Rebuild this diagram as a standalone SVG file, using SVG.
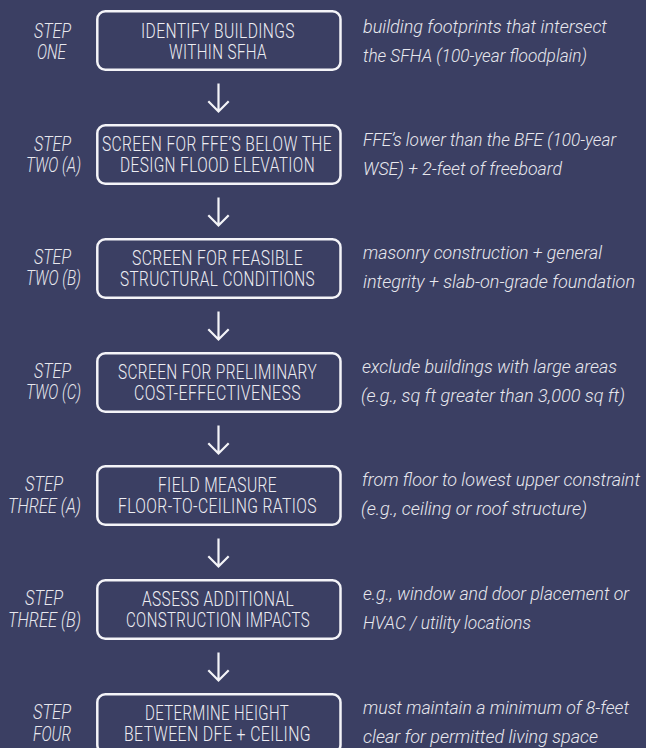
<svg xmlns="http://www.w3.org/2000/svg" width="646" height="748" viewBox="0 0 646 748">
<style>
.bg{fill:#3b3f63}
.box{fill:none;stroke:#f4f4f8;stroke-width:2.5}
.bt{font-family:Roboto,"Liberation Sans",sans-serif;font-weight:300;font-size:20px;fill:#eeeef3;letter-spacing:0.5px}
.st{font-family:Roboto,"Liberation Sans",sans-serif;font-weight:300;font-style:italic;font-size:20px;fill:#e8e8ee}
.ds{font-family:Roboto,"Liberation Sans",sans-serif;font-weight:300;font-style:italic;font-size:18.5px;fill:#e8e8ee}
.arr{fill:none;stroke:#f4f4f8;stroke-width:2.2;stroke-linecap:butt}
</style>
<rect class="bg" x="0" y="0" width="646" height="748"/>

<g id="step1">
<text class="st" x="34" y="37.5" textLength="37" lengthAdjust="spacingAndGlyphs">STEP</text>
<text class="st" x="37" y="58.5" textLength="29" lengthAdjust="spacingAndGlyphs">ONE</text>
<rect class="box" x="97.3" y="11.3" width="243.2" height="58.5" rx="8"/>
<text class="bt" x="141" y="38" textLength="154" lengthAdjust="spacingAndGlyphs">IDENTIFY BUILDINGS</text>
<text class="bt" x="169" y="59" textLength="98" lengthAdjust="spacingAndGlyphs">WITHIN SFHA</text>
<text class="ds" x="363" y="32.5" textLength="244" lengthAdjust="spacingAndGlyphs">building footprints that intersect</text>
<text class="ds" x="363" y="61.5" textLength="224" lengthAdjust="spacingAndGlyphs">the SFHA (100-year floodplain)</text>
</g>

<g id="step2a">
<text class="st" x="34" y="151" textLength="37" lengthAdjust="spacingAndGlyphs">STEP</text>
<text class="st" x="26" y="172" textLength="55" lengthAdjust="spacingAndGlyphs">TWO (A)</text>
<rect class="box" x="97.3" y="125.3" width="243.2" height="58.5" rx="8"/>
<text class="bt" x="102" y="151" textLength="230" lengthAdjust="spacingAndGlyphs">SCREEN FOR FFE’S BELOW THE</text>
<text class="bt" x="120" y="172" textLength="195" lengthAdjust="spacingAndGlyphs">DESIGN FLOOD ELEVATION</text>
<text class="ds" x="363" y="145.5" textLength="253" lengthAdjust="spacingAndGlyphs">FFE’s lower than the BFE (100-year</text>
<text class="ds" x="363" y="174.5" textLength="199" lengthAdjust="spacingAndGlyphs">WSE) + 2-feet of freeboard</text>
</g>

<g id="step2b">
<text class="st" x="34" y="263.5" textLength="37" lengthAdjust="spacingAndGlyphs">STEP</text>
<text class="st" x="26" y="285" textLength="55" lengthAdjust="spacingAndGlyphs">TWO (B)</text>
<rect class="box" x="97.3" y="239.3" width="243.2" height="58.5" rx="8"/>
<text class="bt" x="132" y="265" textLength="171" lengthAdjust="spacingAndGlyphs">SCREEN FOR FEASIBLE</text>
<text class="bt" x="120" y="286" textLength="195" lengthAdjust="spacingAndGlyphs">STRUCTURAL CONDITIONS</text>
<text class="ds" x="363" y="259" textLength="239" lengthAdjust="spacingAndGlyphs">masonry construction + general</text>
<text class="ds" x="363" y="288" textLength="272" lengthAdjust="spacingAndGlyphs">integrity + slab-on-grade foundation</text>
</g>

<g id="step2c">
<text class="st" x="34" y="377.5" textLength="37" lengthAdjust="spacingAndGlyphs">STEP</text>
<text class="st" x="26" y="399" textLength="55" lengthAdjust="spacingAndGlyphs">TWO (C)</text>
<rect class="box" x="97.3" y="353.3" width="243.2" height="58.5" rx="8"/>
<text class="bt" x="118" y="379" textLength="199" lengthAdjust="spacingAndGlyphs">SCREEN FOR PRELIMINARY</text>
<text class="bt" x="134" y="400" textLength="167" lengthAdjust="spacingAndGlyphs">COST-EFFECTIVENESS</text>
<text class="ds" x="362" y="373" textLength="255" lengthAdjust="spacingAndGlyphs">exclude buildings with large areas</text>
<text class="ds" x="361" y="402" textLength="264" lengthAdjust="spacingAndGlyphs">(e.g., sq ft greater than 3,000 sq ft)</text>
</g>

<g id="step3a">
<text class="st" x="25" y="491" textLength="38" lengthAdjust="spacingAndGlyphs">STEP</text>
<text class="st" x="8" y="512.5" textLength="73" lengthAdjust="spacingAndGlyphs">THREE (A)</text>
<rect class="box" x="97.3" y="466.3" width="243.2" height="58.5" rx="8"/>
<text class="bt" x="158" y="492" textLength="119" lengthAdjust="spacingAndGlyphs">FIELD MEASURE</text>
<text class="bt" x="118" y="513" textLength="199" lengthAdjust="spacingAndGlyphs">FLOOR-TO-CEILING RATIOS</text>
<text class="ds" x="362" y="486" textLength="278" lengthAdjust="spacingAndGlyphs">from floor to lowest upper constraint</text>
<text class="ds" x="361" y="515" textLength="226" lengthAdjust="spacingAndGlyphs">(e.g., ceiling or roof structure)</text>
</g>

<g id="step3b">
<text class="st" x="25" y="605" textLength="38" lengthAdjust="spacingAndGlyphs">STEP</text>
<text class="st" x="8" y="626.5" textLength="73" lengthAdjust="spacingAndGlyphs">THREE (B)</text>
<rect class="box" x="97.3" y="580.3" width="243.2" height="58.5" rx="8"/>
<text class="bt" x="142" y="606" textLength="152" lengthAdjust="spacingAndGlyphs">ASSESS ADDITIONAL</text>
<text class="bt" x="126" y="627" textLength="184" lengthAdjust="spacingAndGlyphs">CONSTRUCTION IMPACTS</text>
<text class="ds" x="363" y="600" textLength="266" lengthAdjust="spacingAndGlyphs">e.g., window and door placement or</text>
<text class="ds" x="363" y="629" textLength="168" lengthAdjust="spacingAndGlyphs">HVAC / utility locations</text>
</g>

<g id="step4">
<text class="st" x="33" y="719" textLength="38" lengthAdjust="spacingAndGlyphs">STEP</text>
<text class="st" x="33" y="740.5" textLength="38" lengthAdjust="spacingAndGlyphs">FOUR</text>
<rect class="box" x="97.3" y="694.3" width="243.2" height="58.5" rx="8"/>
<text class="bt" x="145" y="720" textLength="144" lengthAdjust="spacingAndGlyphs">DETERMINE HEIGHT</text>
<text class="bt" x="124" y="741" textLength="187" lengthAdjust="spacingAndGlyphs">BETWEEN DFE + CEILING</text>
<text class="ds" x="363" y="714" textLength="266" lengthAdjust="spacingAndGlyphs">must maintain a minimum of 8-feet</text>
<text class="ds" x="363" y="743" textLength="235" lengthAdjust="spacingAndGlyphs">clear for permitted living space</text>
</g>

<g id="connectors">
<path class="arr" d="M218.5 83.5V111.5M208.3 101.3L218.5 111.5L228.7 101.3"/>
<path class="arr" d="M218.5 197.5V225.5M208.3 215.3L218.5 225.5L228.7 215.3"/>
<path class="arr" d="M218.5 311.5V339.5M208.3 329.3L218.5 339.5L228.7 329.3"/>
<path class="arr" d="M218.5 425.5V453.5M208.3 443.3L218.5 453.5L228.7 443.3"/>
<path class="arr" d="M218.5 538.5V566.5M208.3 556.3L218.5 566.5L228.7 556.3"/>
<path class="arr" d="M218.5 652.5V680.5M208.3 670.3L218.5 680.5L228.7 670.3"/>
</g>
</svg>
